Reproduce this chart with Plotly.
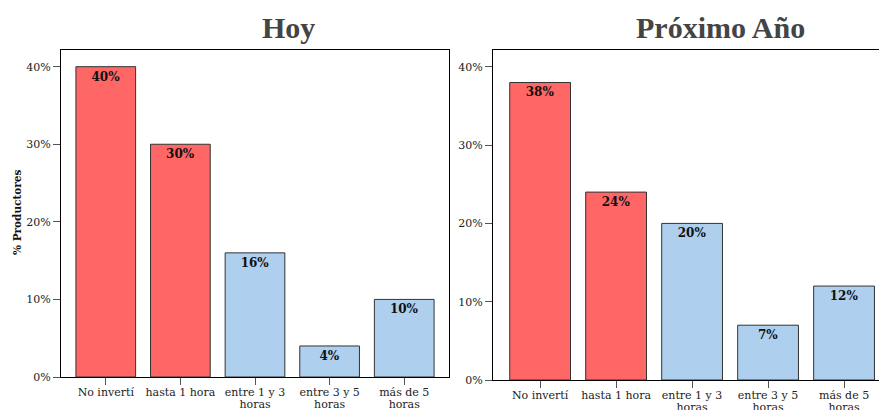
import plotly.graph_objects as go

# Time invested per category, share of producers (%)
categorias = ["No invertí", "hasta 1 hora", "entre 1 y 3 horas",
              "entre 3 y 5 horas", "más de 5 horas"]
etiquetas = [["No invertí"], ["hasta 1 hora"], ["entre 1 y 3", "horas"],
             ["entre 3 y 5", "horas"], ["más de 5", "horas"]]
hoy = [40, 30, 16, 4, 10]
proximo_anio = [38, 24, 20, 7, 12]
colores = ["#FF6666", "#FF6666", "#AED0EE", "#AED0EE", "#AED0EE"]
y_ticks = [0, 10, 20, 30, 40]

W, H = 879, 410
serif = "DejaVu Serif"
LABEL_PX = 11

# Multi-line category labels: the small base size keeps the line pitch tight,
# the inner spans set the visible glyph size.
ticktext = ["<br>".join(f"<span style='font-size:{LABEL_PX}px'>{ln}</span>" for ln in lines)
            for lines in etiquetas]

fig = go.Figure()

for vals, xa, ya in [(hoy, "x", "y"), (proximo_anio, "x2", "y2")]:
    fig.add_trace(go.Bar(
        x=categorias, y=vals, xaxis=xa, yaxis=ya,
        marker=dict(color=colores, line=dict(color="#333333", width=1)),
        width=0.8,
        text=[f"<b>{v}%</b>" for v in vals],
        textposition="inside", insidetextanchor="end",
        textfont=dict(family=serif, size=12, color="#111111"),
        constraintext="none", cliponaxis=False,
        showlegend=False, hoverinfo="skip",
    ))

def yaxis(domain, anchor, mirror):
    return dict(domain=domain, anchor=anchor, range=[0, 42.15], tickvals=y_ticks,
                ticktext=[f"{v}%" for v in y_ticks],
                ticks="outside", ticklen=7, tickcolor="#555555",
                tickfont=dict(family=serif, size=11, color="#222222"),
                showgrid=False, zeroline=False,
                showline=True, linecolor="#000000", linewidth=1,
                mirror=mirror, automargin=False, fixedrange=True)

def xaxis(domain, anchor, rng):
    return dict(domain=domain, anchor=anchor, range=rng,
                tickvals=categorias, ticktext=ticktext,
                ticks="outside", ticklen=7, ticklabelstandoff=0,
                tickcolor="#555555",
                tickfont=dict(family=serif, size=9, color="#222222"),
                showgrid=False, showline=True, linecolor="#000000", linewidth=1,
                mirror=True, tickangle=0, automargin=False, fixedrange=True)

fig.update_layout(
    width=W, height=H,
    margin=dict(l=0, r=0, t=0, b=0),
    paper_bgcolor="white", plot_bgcolor="white",
    xaxis=xaxis([61 / W, 449 / W], "y", [-0.6, 4.6]),
    yaxis=yaxis([(H - 377) / H, (H - 50) / H], "x", True),
    xaxis2=xaxis([493 / W, 1.0], "y2", [-0.62, 4.46]),
    yaxis2=yaxis([(H - 380) / H, (H - 50) / H], "x2", False),
    annotations=[
        dict(text="<b>Hoy</b>", x=288 / W, y=(H - 28) / H, xref="paper", yref="paper",
             showarrow=False, xanchor="center", yanchor="middle",
             font=dict(family="Liberation Serif", size=30, color="#444444")),
        dict(text="<b>Próximo Año</b>", x=720 / W, y=(H - 28) / H, xref="paper", yref="paper",
             showarrow=False, xanchor="center", yanchor="middle",
             font=dict(family="Liberation Serif", size=30, color="#444444")),
        dict(text="<b>% Productores</b>", x=17 / W, y=(H - 213) / H, xref="paper", yref="paper",
             showarrow=False, textangle=-90, xanchor="center", yanchor="middle",
             font=dict(family=serif, size=10.5, color="#111111")),
    ],
)

fig.write_html("out.html")
